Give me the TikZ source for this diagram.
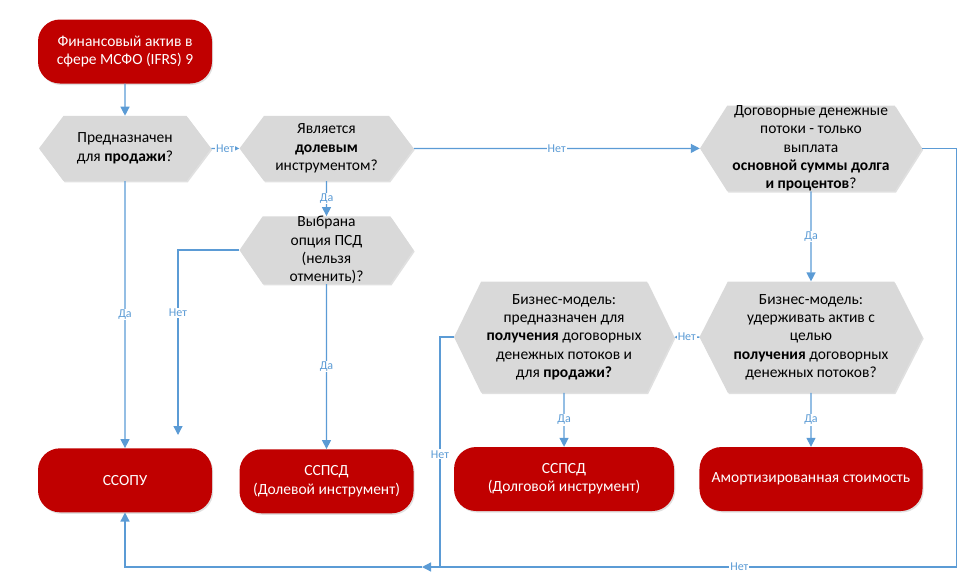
\documentclass[tikz,border=0pt]{standalone}
\usepackage{fontspec}
\setmainfont{Carlito}
\usetikzlibrary{arrows.meta,positioning,shapes.symbols,shadows}
\definecolor{ifrsred}{HTML}{C00000}
\definecolor{hexgray}{HTML}{D9D9D9}
\definecolor{flowblue}{HTML}{5B9BD5}

\begin{document}
\begin{tikzpicture}[
  x=1pt,y=-1pt,
  font=\fontsize{15.5}{18.3}\selectfont,
  softshadow/.style={drop shadow={shadow xshift=1.2pt,shadow yshift=-1.5pt,opacity=0.2,fill=black!60}},
  term/.style={fill=ifrsred,text=white,rounded corners=22pt,align=center,minimum height=64pt,inner sep=2pt,softshadow},
  decision/.style={signal,signal to=west and east,signal from=nowhere,signal pointer angle=106,fill=hexgray,align=center,inner sep=0pt,softshadow},
  link/.style={draw=flowblue,line width=1.3pt},
  arrow/.style={link,-{Triangle[length=9pt,width=9pt]}},
  answer/.style={font=\fontsize{12}{13}\selectfont,text=flowblue,fill=white,inner sep=1pt}
]
\useasboundingbox (0,0) rectangle (966,581);
\node[term,minimum width=174pt] (start) at (125,51.5) {Финансовый актив в\\сфере МСФО (IFRS) 9};
\node[decision,minimum width=172pt,minimum height=65pt,below=32pt of start] (sale)
  {Предназначен\\для \textbf{продажи}?};
\node[decision,minimum width=174pt,minimum height=65pt,right=28pt of sale] (equity)
  {Является\\\textbf{долевым}\\инструментом?};
\node[decision,minimum width=174pt,minimum height=67pt,signal pointer angle=111,below=35pt of equity] (option)
  {Выбрана\\опция ПСД\\(нельзя\\отменить)?};
\node[decision,minimum width=222pt,minimum height=85pt,signal pointer angle=115,right=286pt of equity] (sppi)
  {Договорные денежные\\потоки - только\\выплата\\\textbf{основной суммы долга}\\\textbf{и процентов}?};
\node[decision,minimum width=223pt,minimum height=111pt,signal pointer angle=126,below=90pt of sppi] (hold)
  {Бизнес-модель:\\удерживать актив с\\целью\\\textbf{получения} договорных\\денежных потоков?};
\node[decision,minimum width=220pt,minimum height=111pt,signal pointer angle=128,left=25pt of hold] (both)
  {Бизнес-модель:\\предназначен для\\\textbf{получения} договорных\\денежных потоков и\\для \textbf{продажи?}};
\node[term,minimum width=174pt,below=267pt of sale] (fvpl) {ССОПУ};
\node[term,minimum width=174pt,below=165pt of option] (fvoce) {ССПСД\\(Долевой инструмент)};
\node[term,minimum width=220pt,below=54pt of both] (fvocid) {ССПСД\\(Долговой инструмент)};
\node[term,minimum width=223pt,below=54pt of hold] (amort) {Амортизированная стоимость};
\coordinate (psdno) at (178,435);
\coordinate (loopin) at (422,567);
\coordinate (bothdown) at (440,567);
% connectors
\draw[arrow] (start) -- (sale);
\draw[arrow] (sale) -- node[answer]{Нет} (equity);
\draw[arrow] (equity) -- node[answer]{Нет} (sppi);
\draw[arrow] (equity) -- node[answer]{Да} (option);
\draw[arrow] (sale) -- node[answer]{Да} (fvpl);
\draw[arrow] (option) -- node[answer]{Да} (fvoce);
\draw[arrow] (option.west) -| node[answer,pos=0.67]{Нет} (psdno);
\draw[arrow] (sppi) -- node[answer]{Да} (hold);
\draw[arrow] (hold) -- node[answer]{Да} (amort);
\draw[arrow] (both) -- node[answer]{Да} (fvocid);
\draw[arrow] (hold) -- node[answer]{Нет} (both);
\draw[arrow] (sppi.east) -- ++(34,0) |- node[answer,pos=0.703]{Нет} (loopin);
\draw[link] (both.west) -| node[answer,pos=0.755]{Нет} (bothdown);
\draw[arrow] (loopin) -| (fvpl.south);
\end{tikzpicture}
\end{document}
